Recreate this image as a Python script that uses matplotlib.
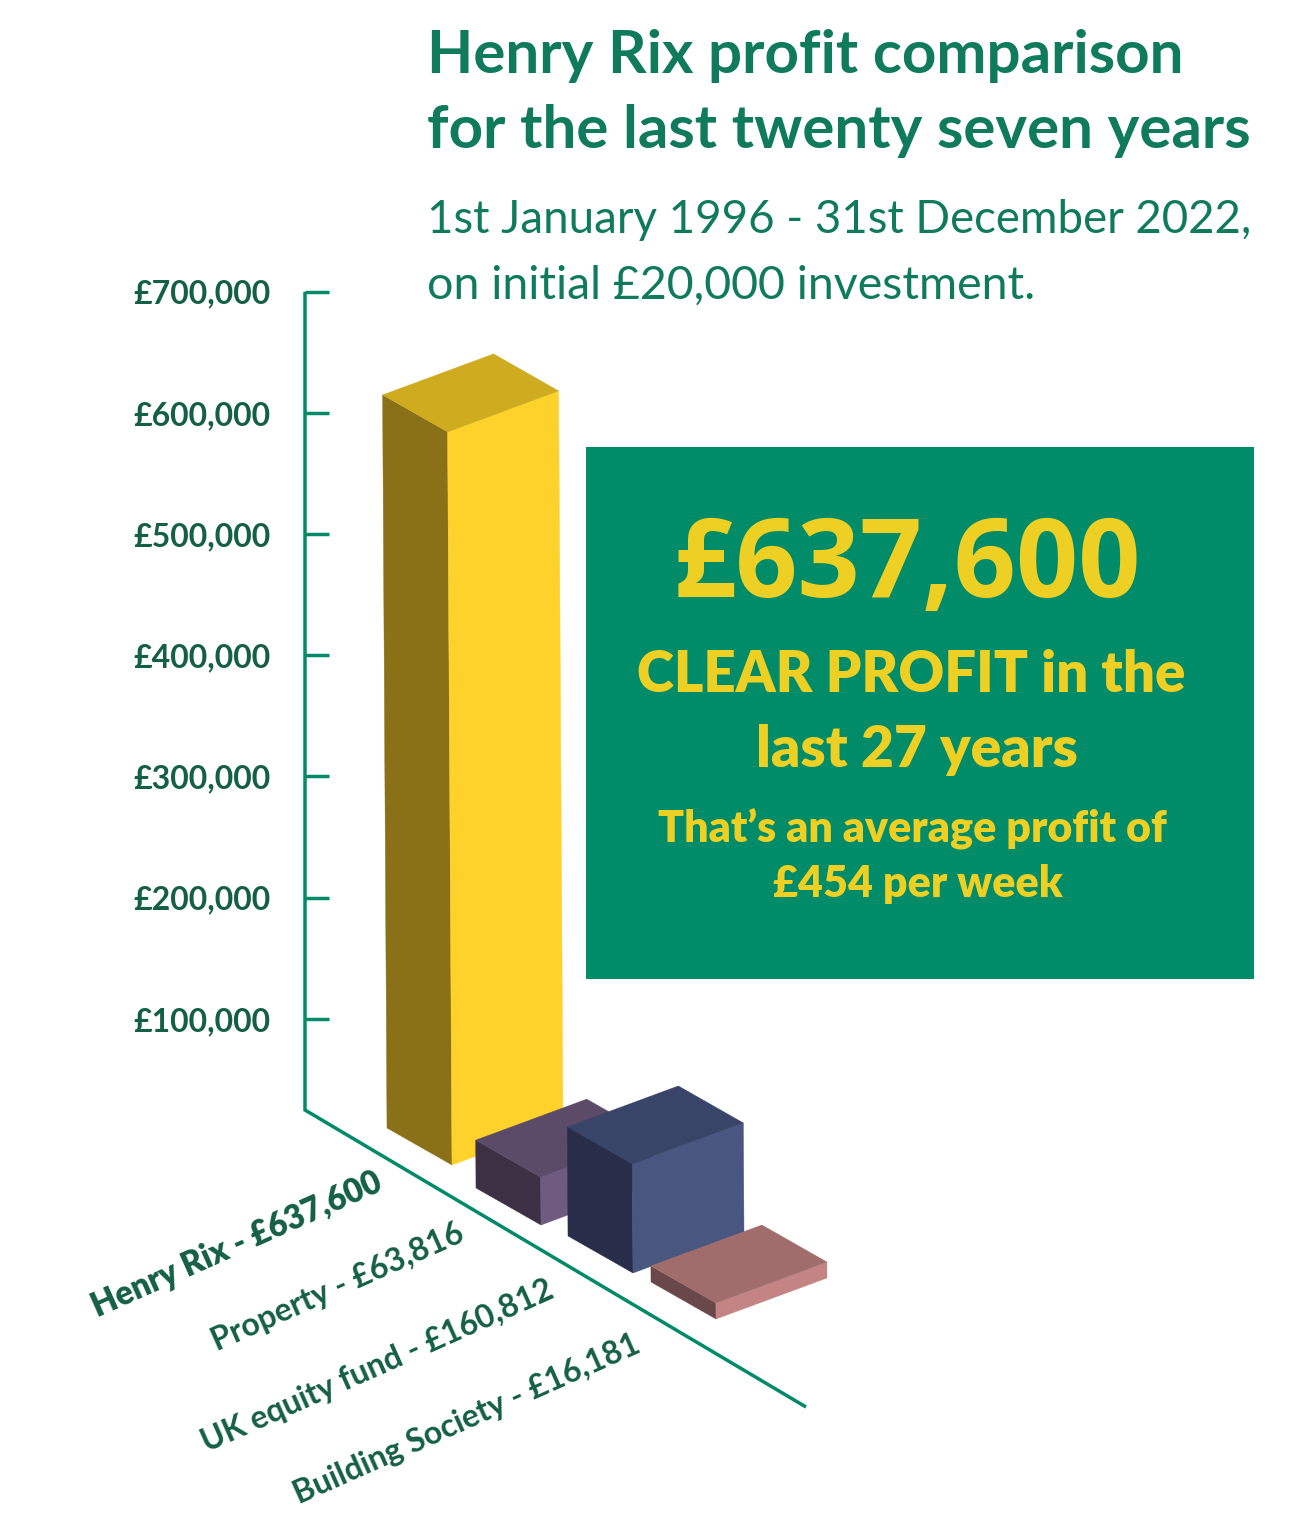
import matplotlib
matplotlib.use('Agg')
import matplotlib.pyplot as plt

# Values
categories = ['Henry Rix', 'Property', 'UK equity fund', 'Building Society']
profits = [637600, 63816, 160812, 16181]
# bar heights as drawn, in axis units (the artwork is not to scale)
drawn_heights = [605000, 39500, 90000, 13200]
tick_values = [100000, 200000, 300000, 400000, 500000, 600000, 700000]

top_colors = ['#cfab1f', '#5b4a68', '#394568', '#a06c6c']
side_colors = ['#8a7118', '#3d3045', '#282e4a', '#6a4849']
front_colors = ['#fed22a', '#705b80', '#49567f', '#c48484']

GREEN = '#0f7a5c'
DARK = '#145f45'
LINE = '#008a69'
YELLOW = '#eed024'
plt.rcParams['font.family'] = ['Lato', 'DejaVu Sans']

fig = plt.figure(figsize=(12.97, 15.24), dpi=100)
ax = fig.add_axes([0, 0, 1, 1])
ax.set_xlim(0, 1297)
ax.set_ylim(1524, 0)
ax.axis('off')

# axis scale in pixels
zero_y = 1140.0
per_unit = 121.17 / 100000


def val_y(v):
    return zero_y - v * per_unit


# vertical axis, ticks and floor line
axis_x = 305
floor_y = 1110
ax.plot([axis_x, axis_x, 806], [val_y(700000), floor_y, 1407], color=LINE, lw=2.5,
        solid_joinstyle='miter', solid_capstyle='butt')
for v in tick_values:
    ax.plot([axis_x, 329], [val_y(v), val_y(v)], color=LINE, lw=2.5, solid_capstyle='butt')
    ax.text(271, val_y(v), '£{:,}'.format(v), color=DARK, fontsize=23, fontweight='bold',
            ha='right', va='center_baseline')

# front corner of each bar on the floor
front_x = [452, 541, 633, 716]
front_y = [1165, 1225, 1273, 1319]
left = (-65, -37)
right = (111, -41)

for i, h in enumerate(drawn_heights):
    hp = h * per_unit
    fx, fy = front_x[i], front_y[i]
    lean = -0.006 * hp
    # base and top corners
    b_f = (fx, fy)
    b_l = (fx + left[0], fy + left[1])
    b_r = (fx + right[0], fy + right[1])
    t_f = (fx + lean, fy - hp)
    t_l = (t_f[0] + left[0], t_f[1] + left[1])
    t_r = (t_f[0] + right[0], t_f[1] + right[1])
    t_b = (t_l[0] + right[0], t_l[1] + right[1])
    for pts, c in [([b_f, b_l, t_l, t_f], side_colors[i]),
                   ([b_f, b_r, t_r, t_f], front_colors[i]),
                   ([t_f, t_l, t_b, t_r], top_colors[i])]:
        ax.fill([p[0] for p in pts], [p[1] for p in pts], color=c, lw=0.3, zorder=3 + i)

# rotated category labels
label_x = [384, 466, 556, 642]
label_y = [1190, 1240, 1297, 1352]
label_size = [23.5, 23, 23, 23]
for i, name in enumerate(categories):
    ax.text(label_x[i], label_y[i], '{} - £{:,}'.format(name, profits[i]), color=DARK,
            fontsize=label_size[i], fontweight='heavy' if i == 0 else 'bold', rotation=24,
            rotation_mode='anchor', ha='right', va='baseline')

# title block
ax.text(427, 73, 'Henry Rix profit comparison', color=GREEN, fontsize=43.3, fontweight='bold', va='baseline')
ax.text(427, 148, 'for the last twenty seven years', color=GREEN, fontsize=43.3, fontweight='bold', va='baseline')
ax.text(427, 233, '1st January 1996 - 31st December 2022,', color=GREEN, fontsize=32.9, va='baseline')
ax.text(427, 299, 'on initial £20,000 investment.', color=GREEN, fontsize=33.5, va='baseline')

# callout box
ax.fill([586, 1254, 1254, 586], [447, 447, 979, 979], color='#008b69', lw=0, zorder=2)
ax.text(907, 597, '£637,600', color=YELLOW, fontsize=78.5, fontweight='bold', family=['Open Sans', 'DejaVu Sans'],
        ha='center', va='baseline', zorder=5)
ax.text(911, 692, 'CLEAR PROFIT in the', color=YELLOW, fontsize=40.5, fontweight='heavy', ha='center', va='baseline', zorder=5)
ax.text(917, 767, 'last 27 years', color=YELLOW, fontsize=41, fontweight='heavy', ha='center', va='baseline', zorder=5)
ax.text(912, 843, 'That’s an average profit of', color=YELLOW, fontsize=31, fontweight='heavy', ha='center', va='baseline', zorder=5)
ax.text(918, 897, '£454 per week', color=YELLOW, fontsize=31, fontweight='heavy', ha='center', va='baseline', zorder=5)

fig.savefig('out.png', dpi=100)
